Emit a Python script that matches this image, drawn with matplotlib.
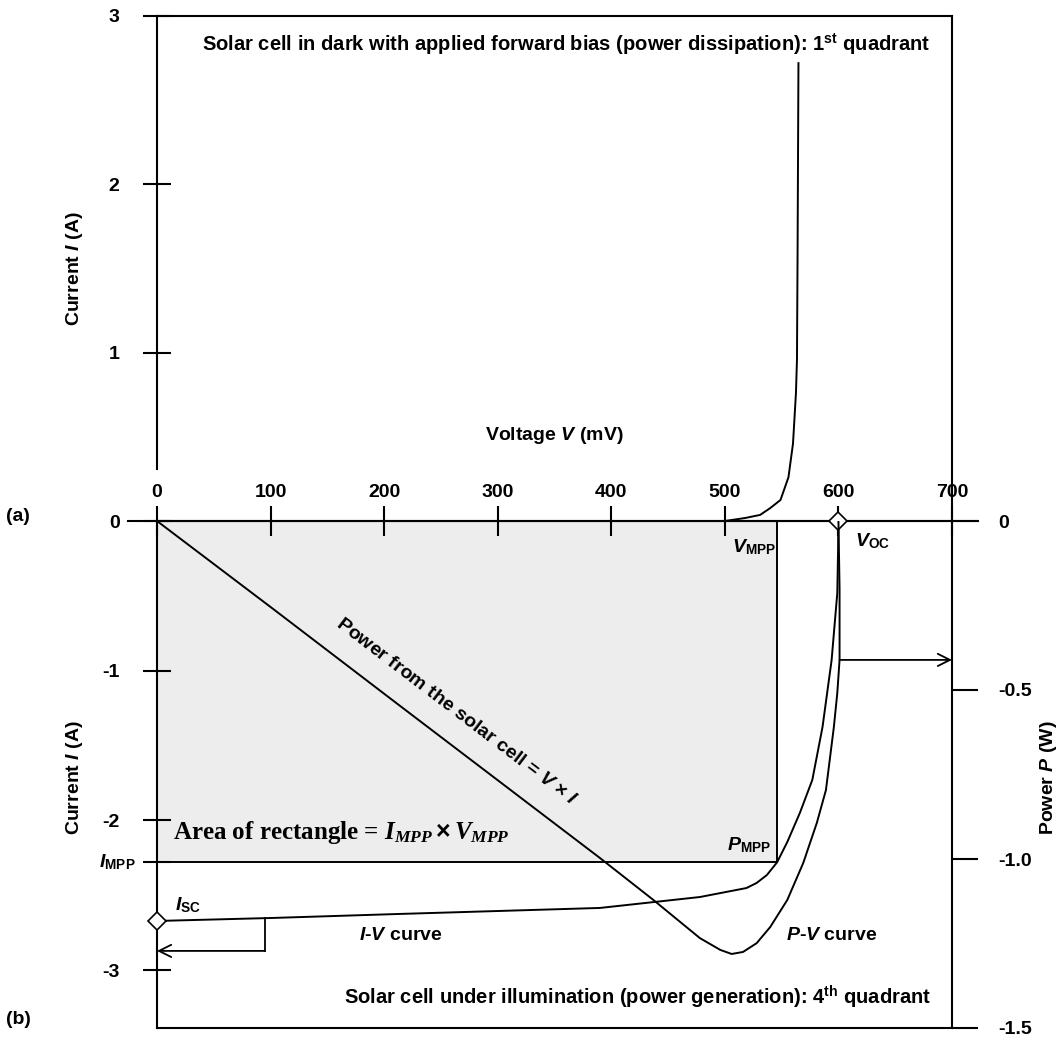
import numpy as np
import matplotlib
matplotlib.use("Agg")
import matplotlib.pyplot as plt
from matplotlib.patches import Rectangle

plt.rcParams['font.family'] = ['Liberation Sans', 'DejaVu Sans']
plt.rcParams['font.weight'] = 'bold'
plt.rcParams['font.size'] = 14
plt.rcParams['axes.unicode_minus'] = False
plt.rcParams['mathtext.fontset'] = 'custom'
plt.rcParams['mathtext.rm'] = 'Liberation Sans:bold'
plt.rcParams['mathtext.bf'] = 'Liberation Sans:bold'
plt.rcParams['mathtext.sf'] = 'Liberation Sans:bold'
plt.rcParams['mathtext.bfit'] = 'Liberation Sans:italic:bold'
plt.rcParams['mathtext.it'] = 'Liberation Serif:italic:bold'

# (a) dark cell, forward bias: voltage in mV, current in A
dark_v = [500, 518, 531, 540, 549, 556, 560, 562.6, 563.5, 564, 564.8]
dark_i = [0, 0.018, 0.036, 0.077, 0.125, 0.26, 0.46, 0.76, 0.96, 1.55, 2.72]

# (b) illuminated cell: I-V curve
iv_v = [0, 101, 214, 302, 390, 478, 519, 528, 537, 546, 555, 566, 577, 586,
        594, 599, 599.7, 600]
iv_i = [-2.672, -2.652, -2.625, -2.605, -2.585, -2.512, -2.452, -2.418, -2.365,
        -2.28, -2.144, -1.951, -1.730, -1.376, -0.929, -0.481, -0.19, 0]

# (b) P-V curve, power in W
pv_v = [0, 101, 214, 302, 390, 437, 478, 496, 506, 516, 528, 540, 555, 569,
        581, 589, 596, 599, 601, 601, 600]
pv_p = [0, -0.257, -0.547, -0.772, -0.997, -1.121, -1.234, -1.269, -1.281,
        -1.275, -1.249, -1.201, -1.121, -1.012, -0.893, -0.796, -0.609, -0.509,
        -0.411, -0.2, 0]

v_mpp, i_mpp = 546, -2.28
v_oc, i_sc = 600, -2.672

v_ticks = [0, 100, 200, 300, 400, 500, 600, 700]
i_ticks_top = [1, 2, 3]
i_ticks_bot = [0, -1, -2, -3]
p_ticks = [0, -0.5, -1.0, -1.5]
p_labels = ['0', '-0.5', '-1.0', '-1.5']

W, H = 1064, 1038
fig = plt.figure(figsize=(W / 100, H / 100), dpi=100)


def box(x0, y0, x1, y1):
    return [x0 / W, 1 - y1 / H, (x1 - x0) / W, (y1 - y0) / H]


LW = 1.5
TS = 14.5  # size of the panel captions
ax_top = fig.add_axes(box(157, 16, 952, 521))
ax_bot = fig.add_axes(box(157, 521, 952, 1028))
ax_pow = ax_bot.twinx()

# ---- top panel
ax_top.set_xlim(0, 700)
ax_top.set_ylim(0, 3)
ax_top.set_xticks([])
ax_top.set_yticks(i_ticks_top, [str(t) for t in i_ticks_top])
ax_top.tick_params(axis='y', direction='inout', length=20, width=LW, pad=17)
ax_top.spines['bottom'].set_visible(False)
ax_top.spines['left'].set_bounds(0.31, 3)
for s in ax_top.spines.values():
    s.set_linewidth(LW)
ax_top.plot(dark_v, dark_i, color='k', lw=1.4)
ax_top.text(681, 2.834, r'Solar cell in dark with applied forward bias (power dissipation): 1$^{\mathbf{st}}$ quadrant',
            ha='right', va='center', fontsize=TS)
ax_top.text(-0.1044, 0.5, r'Current $\mathbfit{I}$ (A)', rotation=90,
            transform=ax_top.transAxes, ha='center', va='center')

# ---- bottom panel
ax_bot.set_xlim(0, 700)
ax_bot.set_ylim(-3.387, 0)
ax_bot.xaxis.tick_top()
ax_bot.set_xticks(v_ticks, [str(t) for t in v_ticks])
ax_bot.tick_params(axis='x', direction='inout', length=21, width=LW, pad=4)
ax_bot.set_yticks(i_ticks_bot + [i_mpp], [str(t) for t in i_ticks_bot] + [''])
ax_bot.tick_params(axis='y', direction='inout', length=20, width=LW, pad=17)
ax_bot.spines['right'].set_visible(False)
for s in ax_bot.spines.values():
    s.set_linewidth(LW)
ax_bot.axhline(0, xmin=-0.036, xmax=1.033, color='k', lw=LW, clip_on=False)

ax_bot.add_patch(Rectangle((0, i_mpp), v_mpp, -i_mpp, facecolor='#ededed',
                           edgecolor='k', lw=1.4, zorder=1))
ax_bot.plot(iv_v, iv_i, color='k', lw=1.4, zorder=3)
ax_bot.plot([0, v_oc], [i_sc, 0], ls='none', marker='D', ms=9, mfc='white',
            mec='k', mew=1.2, clip_on=False, zorder=5)

# arrow from I-V curve to current axis
v_arr, i_arr = 95, -2.872
ax_bot.plot([v_arr, v_arr], [np.interp(v_arr, iv_v, iv_i), i_arr], color='k', lw=1.3)
ax_bot.annotate('', xy=(0, i_arr), xytext=(v_arr, i_arr),
                arrowprops=dict(arrowstyle='->', lw=1.3, color='k',
                                shrinkA=0, shrinkB=0, mutation_scale=22))

ax_bot.text(-0.1044, 0.493, r'Current $\mathbfit{I}$ (A)', rotation=90,
            transform=ax_bot.transAxes, ha='center', va='center')
ax_bot.text(0.5, 1.1696, r'Voltage $\mathbfit{V}$ (mV)',
            transform=ax_bot.transAxes, ha='center', va='center')
ax_bot.text(-0.1748, 1.008, '(a)', transform=ax_bot.transAxes, ha='center', va='center')
ax_bot.text(-0.1748, 0.016, '(b)', transform=ax_bot.transAxes, ha='center', va='center')

ax_bot.text(-19, i_mpp, r'$\mathbfit{I}_{\mathbf{MPP}}$', ha='right', va='center', clip_on=False)
ax_bot.text(506, -0.174, r'$\mathbfit{V}_{\mathbf{MPP}}$', ha='left', va='center')
ax_bot.text(615, -0.134, r'$\mathbfit{V}_{\mathbf{OC}}$', ha='left', va='center')
ax_bot.text(541, -2.164, r'$\mathbfit{P}_{\mathbf{MPP}}$', ha='right', va='center')
ax_bot.text(16, -2.565, r'$\mathbfit{I}_{\mathbf{SC}}$', ha='left', va='center')
ax_bot.text(215, -2.772, r'$\mathbfit{I}$-$\mathbfit{V}$ curve', ha='center', va='center')
ax_bot.text(554, -2.772, r'$\mathbfit{P}$-$\mathbfit{V}$ curve', ha='left', va='center')
ax_bot.text(14, -2.078, r'Area of rectangle = $I_{MPP}\times V_{MPP}$',
            family='Liberation Serif', fontsize=18, ha='left', va='center')
ax_bot.text(682, -3.18, r'Solar cell under illumination (power generation): 4$^{\mathbf{th}}$ quadrant',
            ha='right', va='center', fontsize=TS)

# ---- power axis
ax_pow.set_ylim(-1.5, 0)
ax_pow.set_yticks(p_ticks, p_labels)
ax_pow.tick_params(axis='y', direction='out', length=19, width=LW, pad=14)
for side in ['top', 'bottom', 'left']:
    ax_pow.spines[side].set_visible(False)
ax_pow.spines['right'].set_linewidth(LW)
ax_pow.plot(pv_v, pv_p, color='k', lw=1.4, zorder=3)
ax_pow.annotate('', xy=(700, -0.411), xytext=(601, -0.411),
                arrowprops=dict(arrowstyle='->', lw=1.3, color='k',
                                shrinkA=0, shrinkB=0, mutation_scale=22))
ang = np.degrees(np.arctan2(pv_p[4] - pv_p[0], pv_v[4] - pv_v[0]))
ax_pow.text(263, -0.565, r'Power from the solar cell = $\mathbfit{V}$ × $\mathbfit{I}$',
            rotation=ang, transform_rotates_text=True, rotation_mode='anchor',
            ha='center', va='center')
ax_pow.text(1.122, 0.493, r'Power $\mathbfit{P}$ (W)', rotation=90,
            transform=ax_pow.transAxes, ha='center', va='center')

fig.savefig('out.png', dpi=100)
